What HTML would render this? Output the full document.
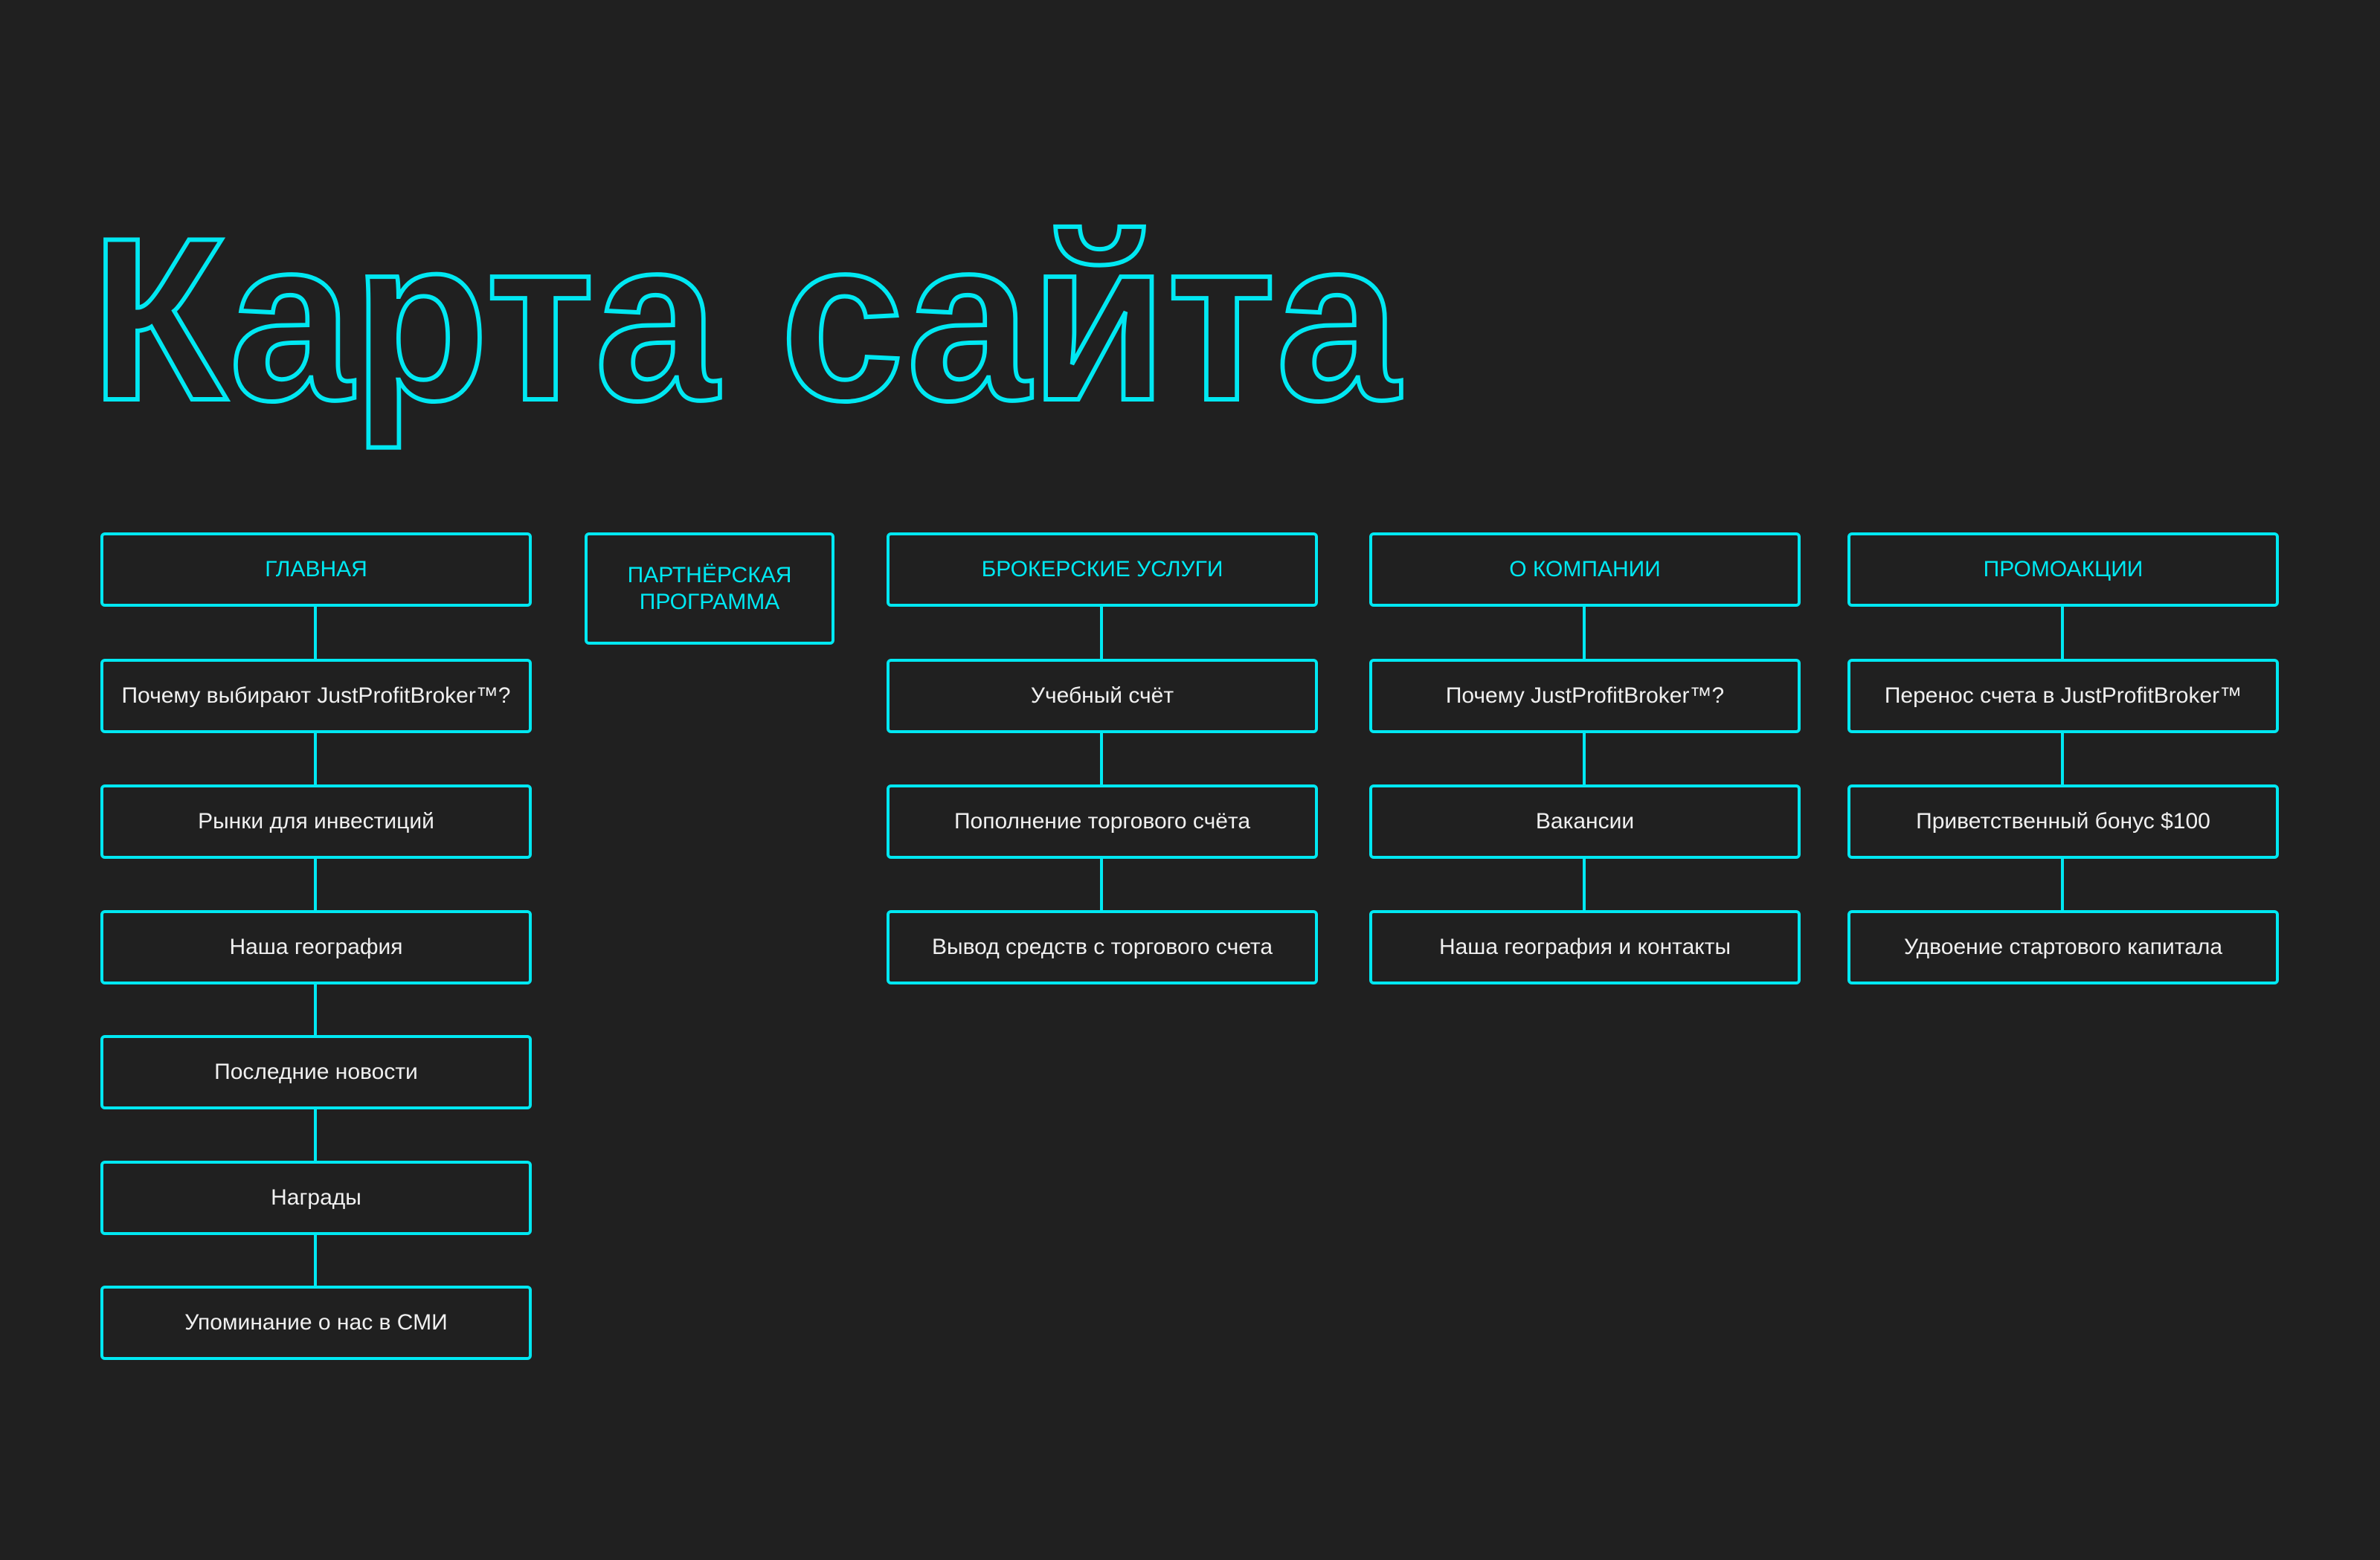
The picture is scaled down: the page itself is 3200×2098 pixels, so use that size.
<!DOCTYPE html>
<html><head><meta charset="utf-8"><style>
html,body{margin:0;padding:0;background:#202020;}
body{width:3200px;height:2098px;position:relative;overflow:hidden;font-family:"Liberation Sans","DejaVu Sans",sans-serif;}
.b{position:absolute;box-sizing:border-box;border:4px solid #00E8F2;border-radius:6px;display:flex;align-items:center;justify-content:center;text-align:center;color:#f0f0f0;font-size:30px;height:100px;}
.h{color:#00E8F2;font-size:30px;}
.l{position:absolute;width:4px;background:#00E8F2;}
svg{position:absolute;left:0;top:0;}
svg text{font-family:"Liberation Sans","DejaVu Sans",sans-serif;font-weight:700;}
</style></head><body>
<svg width="3200" height="700"><text x="122" y="537" font-size="312" fill="none" stroke="#00E8F2" stroke-width="6" textLength="1760" lengthAdjust="spacingAndGlyphs">Карта сайта</text></svg>

<div class="l" style="left:422px;top:814px;height:1000px"></div>
<div class="l" style="left:1479px;top:814px;height:412px"></div>
<div class="l" style="left:2128px;top:814px;height:412px"></div>
<div class="l" style="left:2771px;top:814px;height:412px"></div>

<div class="b h" style="left:135px;top:716px;width:580px;background:#202020">ГЛАВНАЯ</div>
<div class="b" style="left:135px;top:886px;width:580px;background:#202020">Почему выбирают JustProfitBroker™?</div>
<div class="b" style="left:135px;top:1055px;width:580px;background:#202020">Рынки для инвестиций</div>
<div class="b" style="left:135px;top:1224px;width:580px;background:#202020">Наша география</div>
<div class="b" style="left:135px;top:1392px;width:580px;background:#202020">Последние новости</div>
<div class="b" style="left:135px;top:1561px;width:580px;background:#202020">Награды</div>
<div class="b" style="left:135px;top:1729px;width:580px;background:#202020">Упоминание о нас в СМИ</div>

<div class="b h" style="left:786px;top:716px;width:336px;height:151px;line-height:36px;background:#202020">ПАРТНЁРСКАЯ<br>ПРОГРАММА</div>

<div class="b h" style="left:1192px;top:716px;width:580px;background:#202020">БРОКЕРСКИЕ УСЛУГИ</div>
<div class="b" style="left:1192px;top:886px;width:580px;background:#202020">Учебный счёт</div>
<div class="b" style="left:1192px;top:1055px;width:580px;background:#202020">Пополнение торгового счёта</div>
<div class="b" style="left:1192px;top:1224px;width:580px;background:#202020">Вывод средств с торгового счета</div>

<div class="b h" style="left:1841px;top:716px;width:580px;background:#202020">О КОМПАНИИ</div>
<div class="b" style="left:1841px;top:886px;width:580px;background:#202020">Почему JustProfitBroker™?</div>
<div class="b" style="left:1841px;top:1055px;width:580px;background:#202020">Вакансии</div>
<div class="b" style="left:1841px;top:1224px;width:580px;background:#202020">Наша география и контакты</div>

<div class="b h" style="left:2484px;top:716px;width:580px;background:#202020">ПРОМОАКЦИИ</div>
<div class="b" style="left:2484px;top:886px;width:580px;background:#202020">Перенос счета в JustProfitBroker™</div>
<div class="b" style="left:2484px;top:1055px;width:580px;background:#202020">Приветственный бонус $100</div>
<div class="b" style="left:2484px;top:1224px;width:580px;background:#202020">Удвоение стартового капитала</div>
</body></html>
